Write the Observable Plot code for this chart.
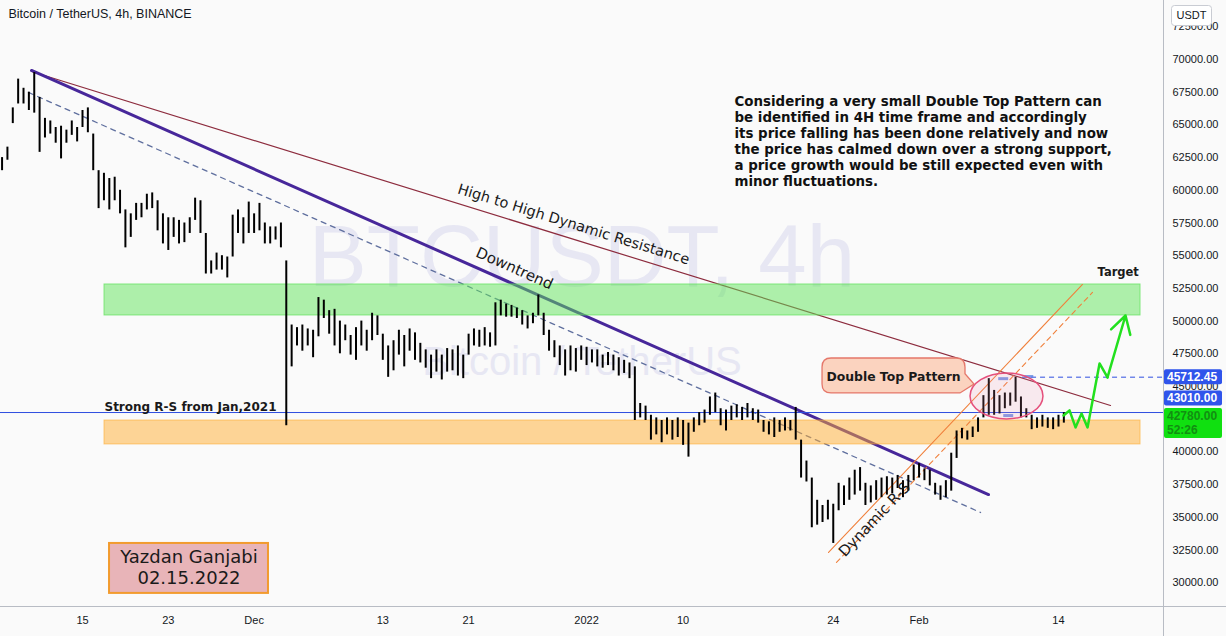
<!DOCTYPE html>
<html><head><meta charset="utf-8">
<script src="https://cdn.jsdelivr.net/npm/d3@7"></script>
<script src="https://cdn.jsdelivr.net/npm/@observablehq/plot@0.6"></script>
<style>
html,body{margin:0;padding:0;background:#fafafa;}
#chart{width:1226px;height:636px;overflow:hidden;}
</style></head><body><div id="chart"></div>
<script>
// ---------- data ----------
const barStart = "2021-11-07T12:00Z";
const barStepHours = 12;
const highs = [62500,63300,66300,68500,67800,67500,69000,67100,65500,65300,
64800,64900,64600,65300,64800,66100,66300,64300,61500,61300,
60900,61000,60000,58500,58200,59000,59000,59700,59800,59200,
58200,57900,57900,57700,57500,57900,59400,59200,56700,54600,
55200,55000,54900,58100,58500,57900,59100,58200,59000,57500,
57200,57200,57500,54600,49700,49500,49700,49400,49300,51800,
51600,50800,50900,50000,49700,48900,49500,50000,49300,50600,
50400,49000,48100,48500,49300,48900,49400,49100,48300,47800,
47400,47800,47400,47900,47800,48100,47400,49000,49400,49300,
49500,49100,51400,51600,51300,51200,51000,50800,50400,50600,
52000,50600,49300,48500,48100,47800,48100,47900,48100,48000,
47800,47800,47400,47600,47400,47200,47000,46800,46500,43700,
43500,42800,42600,42400,42600,42400,42600,42400,42200,42600,
43000,43200,44200,44500,43300,43200,43500,43600,43400,43700,
43300,43200,42400,42300,42600,42400,42600,42400,43400,40900,
39300,38000,36300,35900,36300,36000,37600,37400,38000,38600,
38800,37600,37400,37800,38000,38100,38000,38200,37800,38200,
39000,39100,38700,38600,37600,37400,37800,39900,41600,41800,
41600,41900,42600,44300,45600,44700,44300,44500,44500,45700,
44200,43300,42800,42600,42800,42600,42600,42800,43000];
const lows = [61500,62300,65100,66600,66600,66100,65900,62900,64000,64300,
63600,62400,63600,64200,63700,64800,64400,61500,58600,59200,
58500,59200,58200,55600,56400,57700,57900,58500,58600,56900,
55900,55400,56400,55900,56000,56700,57700,56700,53600,53600,
53900,53900,53300,54900,56700,55900,56700,56700,56900,55900,
55900,56200,55600,42000,46500,48100,47700,48100,47200,48800,
50200,49000,48100,47500,48500,47400,47000,48100,47700,48500,
48900,47000,45700,46200,47400,46500,47700,47000,46800,46400,
45600,46100,45500,46100,46200,45800,45600,47400,48100,48000,
48100,48000,48100,50400,50300,50300,50200,49700,49400,49800,
50400,48900,47700,47200,46600,45800,46200,46100,47000,46600,
46800,46500,46400,46600,46200,45800,46000,45600,42400,42600,
42400,40900,41300,40700,41300,40900,41100,40500,39600,41500,
42000,42200,42800,43000,42000,41600,42400,42600,42400,42600,
42400,42200,41500,41300,41100,41500,41600,41600,40900,38000,
37700,34200,34400,34600,34800,33000,35500,35900,36300,36700,
37000,35900,36100,36300,36500,36700,36800,37200,36500,37000,
37800,38000,37800,37400,36700,36300,36500,37000,39500,41000,
40900,41100,41500,42600,42800,42800,42900,43300,43500,43800,
42600,42600,41700,41800,41900,41800,41700,41900,42200];

// 42500.00 sits behind the last-price tag in the reference, so it is not listed
const priceTicks = [30000,32500,35000,37500,40000,45000,47500,50000,52500,55000,57500,60000,62500,65000,67500,70000,72500];
const dateTicks = ["2021-11-15","2021-11-23","2021-12-01","2021-12-13","2021-12-21","2022-01-01","2022-01-10","2022-01-24","2022-02-01","2022-02-14"];
const dateTickLabels = ["15","23","Dec","13","21","2022","10","24","Feb","14"];

// drawings (time, price)
const resistDates = ["2021-11-10T05:53Z","2022-02-18T20:24Z"];
const resistPrices = [69080, 43550];
const downDates = ["2021-11-10T05:53Z","2022-02-07T11:25Z"];
const downPrices = [69160, 36740];
const dashDates = ["2021-11-09T23:10Z","2022-02-06T17:31Z"];
const dashPrices = [67480, 35370];
const rsSolidDates = ["2022-01-23T13:26Z","2022-02-16T05:46Z"];
const rsSolidPrices = [32310, 52800];
const rsDashDates = ["2022-01-24T07:12Z","2022-02-17T04:05Z"];
const rsDashPrices = [31550, 52190];
const projDates = ["2022-02-14T11:17Z","2022-02-15T00:43Z","2022-02-15T14:10Z","2022-02-16T03:36Z","2022-02-16T17:02Z","2022-02-17T19:55Z","2022-02-18T13:41Z","2022-02-20T06:00Z"];
const projPrices = [42780, 43170, 41870, 42930, 41870, 46760, 45690, 50430];

const zoneDates = ["2021-11-17T01:13Z","2022-02-21T15:36Z"];
const greenZone = [50430, 52800];
const orangeZone = [40570, 42400];
const supportLevel = 43010;
const lastHigh = 45712.45;
const lastHighFrom = "2022-02-10T15:36Z";
const lastPrice = 42780;

const topMarkDates = [["2022-02-08T09:07Z","2022-02-09T07:26Z"],["2022-02-10T19:26Z","2022-02-11T15:36Z"],["2022-02-08T20:24Z","2022-02-09T18:43Z"]];
const topMarkPrices = [45600, 45760, 42780];

const ellipseCenter = ["2022-02-09T04:48Z", 44240];
const ellipseRadius = [3.4, 1760]; // days, price
const calloutBox = ["2022-01-23T00:00Z","2022-02-05T07:55Z", 44470, 47140];
const calloutTip = ["2022-02-06T04:05Z", 45150];

const labels = [
  {text:"High to High Dynamic Resistance", date:"2021-12-30T18:58Z", price:57390, rotate:17.2, size:14.5},
  {text:"Downtrend", date:"2021-12-25T06:43Z", price:54020, rotate:23.9, size:15},
  {text:"Dynamic R-S", date:"2022-01-27T20:24Z", price:34830, rotate:-46.5, size:15}
];
const noteText = ["Considering a very small Double Top Pattern can","be identified in 4H time frame and accordingly","its price falling has been done relatively and now","the price has calmed down over a strong support,","a price growth would be still expected even with","minor fluctuations."];
const notePos = ["2022-01-14T18:58Z", 67330];
const supportLabel = {text:"Strong R-S from Jan,2021", date:"2021-11-17T01:13Z", price:43010};
const targetLabel = {text:"Target", date:"2022-02-17T15:22Z", price:53720};
const calloutLabel = {text:"Double Top Pattern", date:"2022-01-29T16:00Z", price:45690};
const sigBox = ["2021-11-17T12:29Z","2021-12-02T08:10Z", 29180, 33000];
const sigLines = [{text:"Yazdan Ganjabi", price:31930},{text:"02.15.2022", price:30320}];
const sigCenter = "2021-11-24T22:19Z";

// ---------- build ----------
const D = s => new Date(s);
const bars = highs.map((h,i)=>({date:new Date(Date.parse(barStart)+i*barStepHours*3600e3), high:h, low:lows[i]}));
const pts = (ds, ps) => ds.map((d,i)=>({date:D(d), price:ps[i]}));
const tickMap = new Map(dateTicks.map((d,i)=>[+D(d+"T00:00Z"), dateTickLabels[i]]));
const xDomain = [D("2021-11-07T08:30Z"), D("2022-02-23T19:00Z")];
const proj = pts(projDates, projPrices);
const dv = "'DejaVu Sans', sans-serif";

const plot = Plot.plot({
  width:1226, height:636, marginLeft:0, marginRight:63, marginTop:0, marginBottom:30,
  style:{background:"#fafafa", fontFamily:"'Liberation Sans', Arial, sans-serif", fontSize:"11px", color:"#131722", overflow:"visible"},
  x:{type:"utc", domain:xDomain},
  y:{domain:[28180, 74511]},
  marks:[
    Plot.text(["BTCUSDT, 4h"], {text:d=>d, frameAnchor:"middle", dy:-45, fontSize:87, fill:"#e7e7f3"}),
    Plot.text(["Bitcoin / TetherUS"], {text:d=>d, frameAnchor:"middle", dy:59, fontSize:40, fill:"#e7e7f3"}),
    Plot.line(pts(resistDates,resistPrices), {x:"date", y:"price", stroke:"#8d2c3e", strokeWidth:1.2}),
    Plot.line(pts(downDates,downPrices), {x:"date", y:"price", stroke:"#47279a", strokeWidth:3}),
    Plot.line(pts(dashDates,dashPrices), {x:"date", y:"price", stroke:"#5f6f9e", strokeWidth:1.3, strokeDasharray:"5,5"}),
    Plot.rect([greenZone], {x1:D(zoneDates[0]), x2:D(zoneDates[1]), y1:d=>d[0], y2:d=>d[1], fill:"#5fe35a", fillOpacity:0.5, stroke:"#5fe35a", strokeOpacity:0.7}),
    Plot.rect([orangeZone], {x1:D(zoneDates[0]), x2:D(zoneDates[1]), y1:d=>d[0], y2:d=>d[1], fill:"#ffae32", fillOpacity:0.5, stroke:"#ffae32", strokeOpacity:0.6}),
    Plot.ruleY([supportLevel], {stroke:"#2f4fe0", strokeWidth:1}),
    Plot.ruleY([lastHigh], {x1:D(lastHighFrom), x2:xDomain[1], stroke:"#2f4fe0", strokeWidth:1, strokeDasharray:"5,4"}),
    Plot.line(pts(rsSolidDates,rsSolidPrices), {x:"date", y:"price", stroke:"#f0803c", strokeWidth:1.1}),
    Plot.line(pts(rsDashDates,rsDashPrices), {x:"date", y:"price", stroke:"#f0803c", strokeWidth:1.1, strokeDasharray:"5,4"}),
    Plot.ruleX(bars, {x:"date", y1:"low", y2:"high", stroke:"#000", strokeWidth:2}),
    Plot.link(topMarkDates.map((d,i)=>({a:D(d[0]), b:D(d[1]), p:topMarkPrices[i]})), {x1:"a", x2:"b", y1:"p", y2:"p", stroke:"#5b7fe0", strokeWidth:3, strokeOpacity:0.8}),
    Plot.line(proj.slice(0,7), {x:"date", y:"price", stroke:"#22e01e", strokeWidth:2.5}),
    Plot.arrow([{a:proj[6], b:proj[7]}], {x1:d=>d.a.date, y1:d=>d.a.price, x2:d=>d.b.date, y2:d=>d.b.price, stroke:"#22e01e", strokeWidth:2.5, headLength:12}),
    Plot.text(labels, {x:d=>D(d.date), y:"price", text:"text", rotate:"rotate", fontSize:d=>d.size, fill:"#1a1a1a", fontFamily:dv, textAnchor:"middle", lineAnchor:"middle"}),
    Plot.text([noteText.join("\n")], {x:D(notePos[0]), y:notePos[1], text:d=>d, textAnchor:"start", lineAnchor:"top", lineHeight:1.2, fontSize:13.4, fontWeight:"bold", fill:"#111", fontFamily:dv}),
    Plot.text([supportLabel], {x:d=>D(d.date), y:"price", text:"text", textAnchor:"start", lineAnchor:"bottom", dy:-2, fontSize:12, fontWeight:"bold", fill:"#1a1a1a", fontFamily:dv}),
    Plot.text([targetLabel], {x:d=>D(d.date), y:"price", text:"text", textAnchor:"start", fontSize:11.5, fontWeight:"bold", fill:"#1a1a1a", fontFamily:dv}),
    Plot.rect([sigBox], {x1:d=>D(d[0]), x2:d=>D(d[1]), y1:d=>d[2], y2:d=>d[3], fill:"#e8b4b8", stroke:"#f29b2e", strokeWidth:2}),
    Plot.text(sigLines, {x:D(sigCenter), y:"price", text:"text", fontSize:18, fill:"#1a1a1a", fontFamily:dv}),
    Plot.text(["Bitcoin / TetherUS, 4h, BINANCE"], {text:d=>d, frameAnchor:"top-left", dx:8, dy:9, fontSize:12.5, fill:"#131722"}),
    Plot.axisX([...tickMap.keys()].map(t=>new Date(t)), {tickSize:0, tickPadding:10, tickFormat:d=>tickMap.get(+d), fontSize:11, fill:"#131722"}),
    Plot.axisY(priceTicks, {anchor:"right", tickSize:0, tickPadding:9, tickFormat:d=>d.toFixed(2), fontSize:11, fill:"#131722", textAnchor:"start"})
  ]
});
document.getElementById("chart").appendChild(plot);

// ---------- overlays through the plot's scales ----------
const sx = plot.scale("x"), sy = plot.scale("y");
const X = d => sx.apply(D(d)), Y = p => sy.apply(p);
const svg = d3.select(plot);

// ellipse
const ecx = X(ellipseCenter[0]), ecy = Y(ellipseCenter[1]);
const erx = sx.apply(new Date(Date.parse(ellipseCenter[0]) + ellipseRadius[0]*864e5)) - ecx;
const ery = Y(ellipseCenter[1]-ellipseRadius[1]) - ecy;
svg.append("ellipse").attr("cx",ecx).attr("cy",ecy).attr("rx",erx).attr("ry",ery)
  .attr("fill","rgba(240,150,180,0.16)").attr("stroke","#e5507c").attr("stroke-width",1.5);

// callout
const bx1 = X(calloutBox[0]), bx2 = X(calloutBox[1]), by1 = Y(calloutBox[3]), by2 = Y(calloutBox[2]);
const tx = X(calloutTip[0]), ty = Y(calloutTip[1]), r = 9;
const path = `M${bx1+r},${by1} H${bx2-r} Q${bx2},${by1} ${bx2},${by1+r} V${by1+(by2-by1)*0.45} L${tx},${ty} L${bx2-5},${by2} H${bx1+r} Q${bx1},${by2} ${bx1},${by2-r} V${by1+r} Q${bx1},${by1} ${bx1+r},${by1} Z`;
const callG = svg.append("g");
callG.append("path").attr("d",path).attr("fill","#fbd3bf").attr("stroke","#e5776a").attr("stroke-width",1.3);
callG.append("text").attr("x",X(calloutLabel.date)).attr("y",Y(calloutLabel.price)).attr("dy","0.35em")
  .attr("text-anchor","middle").attr("font-family",dv).attr("font-size",12.4).attr("font-weight","bold")
  .attr("fill","#1a1a1a").text(calloutLabel.text);

// axis frame lines
svg.append("line").attr("x1",1163.5).attr("x2",1163.5).attr("y1",0).attr("y2",636).attr("stroke","#b8bcc4");
svg.append("line").attr("x1",0).attr("x2",1226).attr("y1",606.5).attr("y2",606.5).attr("stroke","#b8bcc4");

// price labels on the right axis
function tag(yc, h, bg, fg, lines){
  const g = svg.append("g");
  g.append("rect").attr("x",1164).attr("y",yc-h/2).attr("width",58).attr("height",h).attr("rx",2).attr("fill",bg);
  lines.forEach((t,i)=>g.append("text").attr("x",1167).attr("y",yc-h/2+11.5+i*14).attr("text-anchor","start")
    .attr("font-family","'Liberation Sans', Arial, sans-serif")
    .attr("font-size",12).attr("font-weight","bold").attr("fill",fg).text(t));
}
tag(Y(lastHigh), 15, "#2f54eb", "#fff", [lastHigh.toFixed(2)]);
tag(Y(supportLevel)-14, 15, "#2f54eb", "#fff", [supportLevel.toFixed(2)]);
tag(Y(lastPrice)+8, 30, "#10e010", "#128f12", [lastPrice.toFixed(2), "52:26"]);

// USDT box
svg.append("rect").attr("x",1171.5).attr("y",5.5).attr("width",40).attr("height",20).attr("rx",3).attr("fill","#fff").attr("stroke","#c9ccd3");
svg.append("text").attr("x",1191.5).attr("y",19).attr("text-anchor","middle").attr("font-family","'Liberation Sans', Arial, sans-serif")
  .attr("font-size",11).attr("fill","#131722").text("USDT");
</script></body></html>
